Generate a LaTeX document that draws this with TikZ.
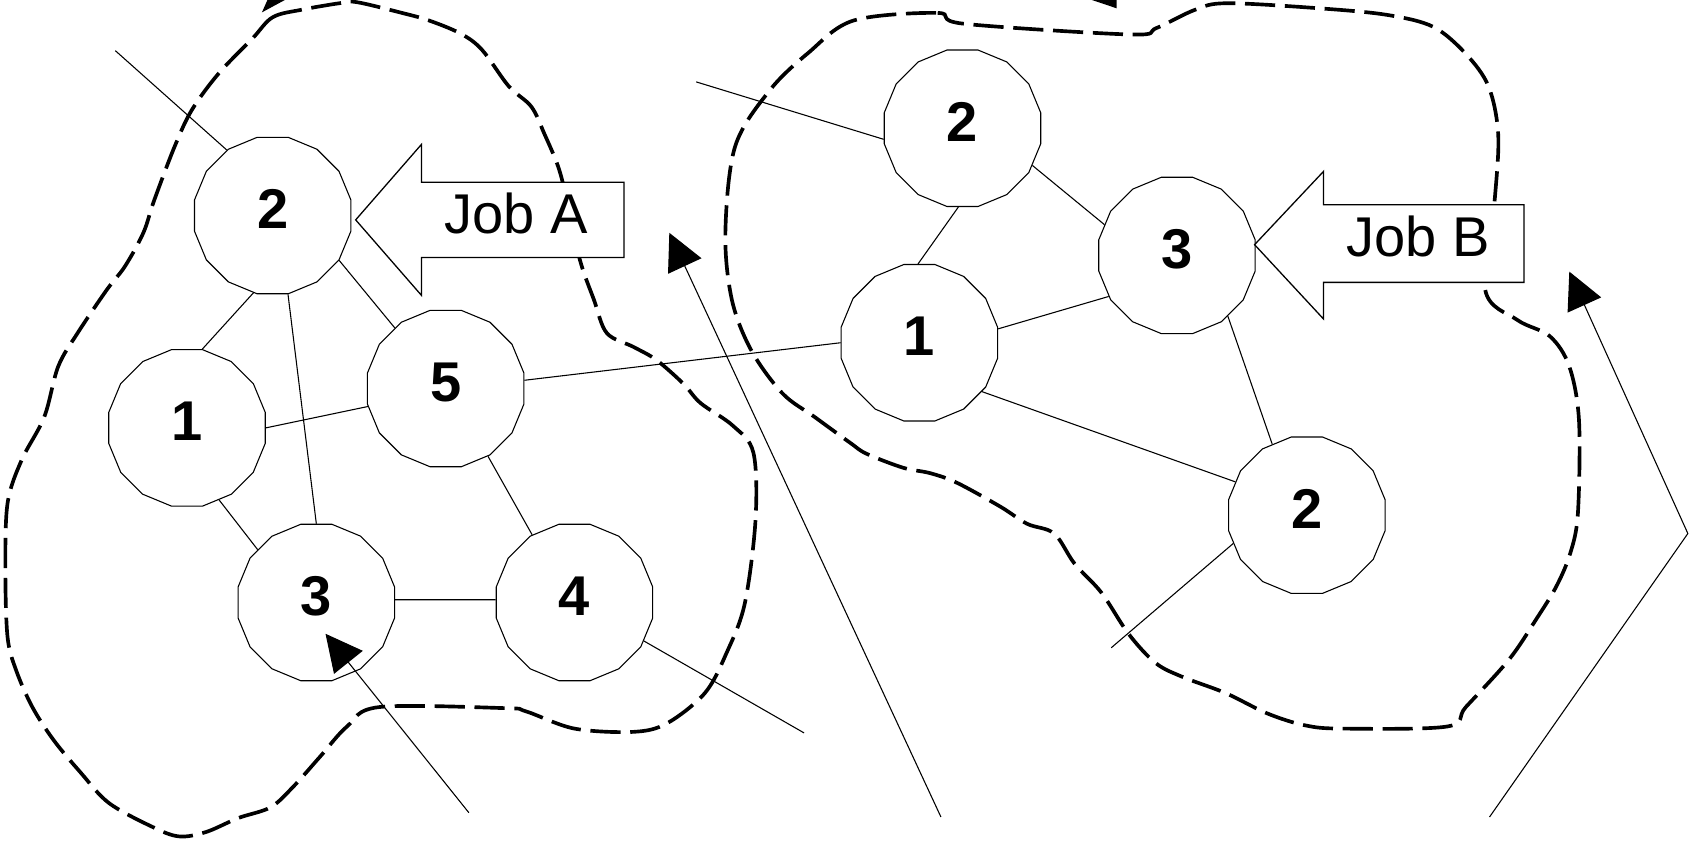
\documentclass[tikz,border=0pt]{standalone}
\usepackage{fontspec}
\setmainfont{Liberation Sans}
\usetikzlibrary{shapes.geometric,arrows.meta}

\begin{document}
\begin{tikzpicture}[x=0.5pt,y=-0.5pt,
  proc/.style={draw, line width=0.5pt, fill=white, regular polygon,
    regular polygon sides=16, minimum size=74pt, inner sep=0pt,
    font=\fontsize{26}{30}\selectfont\bfseries, text depth=6pt},
  link/.style={line width=0.5pt},
  cluster/.style={line width=1.7pt, dash pattern=on 14pt off 4.5pt},
  jobarrow/.style={draw, line width=0.6pt, fill=white},
  joblabel/.style={font=\fontsize{26}{30}\selectfont, inner sep=0pt},
  flow/.style={line width=0.5pt, -{Triangle[length=17pt,width=17pt]}},
]
\clip (0,0) rectangle (1568,781);

% dashed outlines of the two work areas
\draw[cluster] plot[smooth cycle, tension=0.55] coordinates {
  (234,36) (253,16) (280,9) (315,3) (331,2) (373,12) (398,19) (427,31)
  (447,46) (472,80) (493,99) (505,124) (518,155) (526,186) (538,241)
  (551,278) (563,309) (588,322) (609,334) (634,356) (650,374) (680,395)
  (699,420) (701,482) (691,560) (674,606) (654,643) (619,671) (588,679)
  (533,676) (488,660) (468,657) (352,656) (322,674) (297,702) (272,730)
  (251,749) (221,759) (191,772) (166,776) (141,767) (101,745) (75,717)
  (50,687) (30,656) (15,622) (7,591) (5,529) (7,467) (20,427) (41,387)
  (54,340) (72,309) (99,269) (116,247) (133,216) (143,186) (162,136)
  (178,102) (203,68)};
\draw[cluster] plot[smooth cycle, tension=0.55] coordinates {
  (792,19) (870,12) (894,22) (1049,32) (1073,26) (1109,9) (1139,3)
  (1228,8) (1288,14) (1330,25) (1360,50) (1381,80) (1390,124) (1387,183)
  (1378,269) (1408,297) (1438,312) (1456,340) (1465,390) (1464,476)
  (1457,513) (1444,544) (1425,575) (1400,612) (1360,656) (1343,674)
  (1246,676) (1211,673) (1176,662) (1137,643) (1097,628) (1072,615)
  (1047,588) (1022,550) (997,523) (978,495) (953,486) (928,470)
  (888,448) (863,439) (838,434) (804,421) (789,411) (756,387) (726,365)
  (697,325) (679,278) (673,216) (682,136) (714,84) (750,49)};

% arrow tips entering from above
\fill (243,11.5) -- (249,-2) -- (268,-2) -- cycle;
\fill (1007,-2) -- (1036,-2) -- (1036,7.7) -- cycle;

% processors of job A
\node[proc] (A2) at (253,200) {2};
\node[proc] (A1) at (173.5,397) {1};
\node[proc] (A5) at (413.5,360.5) {5};
\node[proc] (A3) at (293.5,559) {3};
\node[proc] (A4) at (533,559) {4};

% processors of job B
\node[proc] (B2) at (893,119) {2};
\node[proc] (B3) at (1092,237) {3};
\node[proc] (B1) at (853,318) {1};
\node[proc] (B2b) at (1212.5,478) {2};

% links
\coordinate (a0) at (107,47);
\coordinate (a4out) at (746,680);
\coordinate (b0) at (646,76);
\coordinate (b2out) at (1031,601);
\draw[link] (a0) -- (A2.125);
\draw[link] (A2.256) -- (A1.79);
\draw[link] (A2.281) -- (A3.90);
\draw[link] (A2.326) -- (A5.130);
\draw[link] (A1.0) -- (A5.193);
\draw[link] (A1.294) -- (A3.138);
\draw[link] (A5.302) -- (A4.122);
\draw[link] (A3.2) -- (A4.178);
\draw[link] (A4.331) -- (a4out);
\draw[link] (A5.6) -- (B1.180);
\draw[link] (b0) -- (B2.188);
\draw[link] (B2.332) -- (B3.157);
\draw[link] (B2.267) -- (B1.91);
\draw[link] (B1.10) -- (B3.211);
\draw[link] (B1.322) -- (B2b.155);
\draw[link] (B3.310) -- (B2b.116);
\draw[link] (B2b.201) -- (b2out);

% incoming arrows
\coordinate (f1s) at (435,754);
\coordinate (f1e) at (302,588);
\coordinate (f2s) at (873,758);
\coordinate (f2e) at (621,216);
\coordinate (f3s) at (1382,758);
\coordinate (f3m) at (1566,495);
\coordinate (f3e) at (1456,252);
\draw[flow] (f1s) -- (f1e);
\draw[flow] (f2s) -- (f2e);
\draw[flow] (f3s) -- (f3m) -- (f3e);

% job arrows
\draw[jobarrow] (330,204) -- (391,134) -- (391,169) -- (579,169)
  -- (579,239) -- (391,239) -- (391,274) -- cycle;
\node[joblabel] (jobA) at (479,198) {Job A};
\draw[jobarrow] (1164,227) -- (1228,159) -- (1228,190) -- (1414,190)
  -- (1414,262) -- (1228,262) -- (1228,296) -- cycle;
\node[joblabel] (jobB) at (1316,219) {Job B};
\end{tikzpicture}
\end{document}
